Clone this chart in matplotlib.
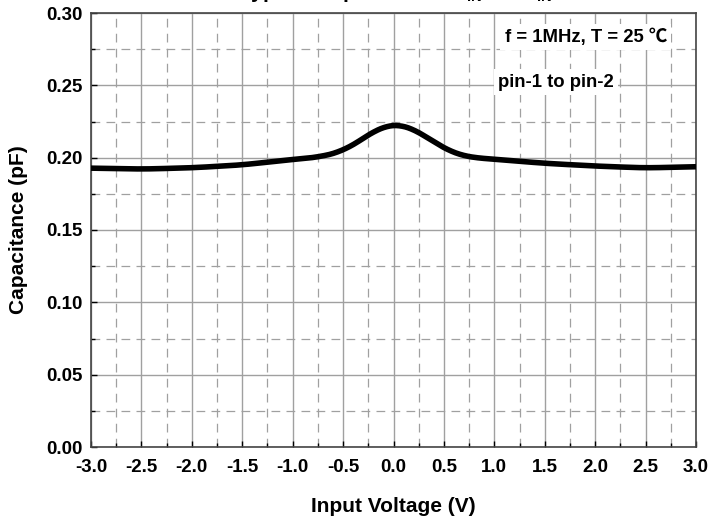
import matplotlib
matplotlib.use("Agg")
import matplotlib.pyplot as plt
import numpy as np
from matplotlib.ticker import MultipleLocator

plt.rcParams['font.family'] = ['Liberation Sans', 'Noto Sans CJK SC', 'DejaVu Sans']
plt.rcParams['font.weight'] = 'bold'
plt.rcParams['mathtext.fontset'] = 'custom'
plt.rcParams['mathtext.rm'] = 'Liberation Sans:bold'
plt.rcParams['mathtext.bf'] = 'Liberation Sans:bold'

# values
voltage = [-3.0, -2.5, -2.0, -1.5, -1.0, -0.75, -0.5, -0.4, -0.25, -0.125, 0.0,
           0.125, 0.25, 0.375, 0.5, 0.625, 0.75, 1.0, 1.5, 2.0, 2.5, 3.0]
capacitance = [0.1928, 0.1921, 0.1930, 0.1950, 0.1988, 0.2002, 0.2045, 0.2088, 0.2157, 0.2212, 0.2232,
               0.2222, 0.2178, 0.2120, 0.2065, 0.2025, 0.2003, 0.1989, 0.1961, 0.1942, 0.1929, 0.1938]

xticks = np.arange(-3.0, 3.01, 0.5)
yticks = np.arange(0.0, 0.301, 0.05)

fig = plt.figure(figsize=(7.09, 5.21), dpi=100)
ax = fig.add_axes([91/709, 74/521, 605/709, 434/521])

# dense polyline through the read points, lightly smoothed
xs = np.linspace(-3, 3, 600)
ys = np.interp(xs, voltage, capacitance)
k = 15
ys_s = np.convolve(np.pad(ys, k, mode='edge'), np.ones(2*k+1)/(2*k+1), mode='same')[k:-k]
ax.plot(xs, ys_s, color='black', lw=4.0, solid_capstyle='butt', zorder=3)

ax.set_xlim(-3, 3)
ax.set_ylim(0, 0.30)
ax.set_xticks(xticks)
ax.set_yticks(yticks)
ax.set_xticklabels([f"{v:.1f}" for v in xticks])
ax.set_yticklabels([f"{v:.2f}" for v in yticks])
ax.xaxis.set_minor_locator(MultipleLocator(0.25))
ax.yaxis.set_minor_locator(MultipleLocator(0.025))

ax.grid(which='major', color='#a0a0a0', lw=1.0, ls='-')
ax.grid(which='minor', color='#a0a0a0', lw=0.9, ls=(0, (7, 5)))
ax.set_axisbelow(True)
ax.tick_params(which='both', direction='in', length=4, width=1, labelsize=13.5)
ax.tick_params(axis='x', pad=9)
ax.tick_params(axis='y', pad=6)
ax.tick_params(which='minor', length=3)
for s in ax.spines.values():
    s.set_color('#444444')
    s.set_linewidth(1.2)

ax.set_xlabel('Input Voltage (V)', fontsize=15, fontweight='bold', labelpad=15)
ax.set_ylabel('Capacitance (pF)', fontsize=15, fontweight='bold', labelpad=13)

ax.text(0.818, 0.945, 'f = 1MHz, T = 25 \u2103', transform=ax.transAxes, ha='center', va='center',
        fontsize=13.3, fontweight='bold', bbox=dict(facecolor='white', edgecolor='none', pad=3))
ax.text(0.769, 0.841, 'pin-1 to pin-2', transform=ax.transAxes, ha='center', va='center',
        fontsize=13.3, fontweight='bold', bbox=dict(facecolor='white', edgecolor='none', pad=3))

# title mostly cut off by the top edge in the reference
fig.text(552/709, 1.0 + 2.5/521, r'Typical Capacitance: C$_{\mathbf{IN}}$ vs. V$_{\mathbf{IN}}$',
         ha='right', va='baseline', fontsize=15, fontweight='bold')

fig.savefig('out.png', dpi=100)
